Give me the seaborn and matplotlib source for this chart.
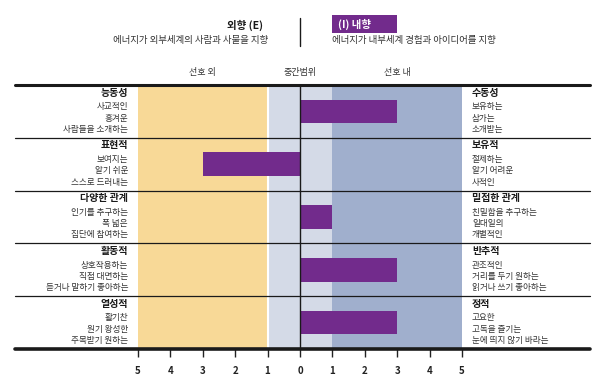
import matplotlib
matplotlib.use("Agg")
import matplotlib.pyplot as plt
import seaborn as sns
import pandas as pd
from matplotlib.patches import Rectangle
from matplotlib.lines import Line2D

sns.set_theme(style="white")
plt.rcParams['font.family'] = ['Noto Sans CJK KR', 'DejaVu Sans']

# ---- data ----
categories = ["능동성", "표현적", "다양한 관계", "활동적", "열성적"]
scores = [3, -3, 1, 3, 3]
left_titles = ["능동성", "표현적", "다양한 관계", "활동적", "열성적"]
left_desc = [
    ["사교적인", "흥겨운", "사람들을 소개하는"],
    ["보여지는", "알기 쉬운", "스스로 드러내는"],
    ["인기를 추구하는", "폭 넓은", "집단에 참여하는"],
    ["상호작용하는", "직접 대면하는", "듣거나 말하기 좋아하는"],
    ["활기찬", "원기 왕성한", "주목받기 원하는"],
]
right_titles = ["수동성", "보유적", "밀접한 관계", "반추적", "정적"]
right_desc = [
    ["보유하는", "삼가는", "소개받는"],
    ["절제하는", "알기 어려운", "사적인"],
    ["친밀함을 추구하는", "일대일의", "개별적인"],
    ["관조적인", "거리를 두기 원하는", "읽거나 쓰기 좋아하는"],
    ["고요한", "고독을 즐기는", "눈에 띄지 않기 바라는"],
]
tick_values = [-5, -4, -3, -2, -1, 0, 1, 2, 3, 4, 5]
tick_labels = ["5", "4", "3", "2", "1", "0", "1", "2", "3", "4", "5"]
zone_labels = ["선호 외", "중간범위", "선호 내"]
zone_pos = [-3, 0, 3]

YELLOW = "#F8D997"
LIGHT = "#D4DAE7"
DARK = "#A0AFCD"
PURPLE = "#722B8C"

W, H = 604, 388
fig = plt.figure(figsize=(W / 100, H / 100), dpi=100)
ax = fig.add_axes([138 / W, 1 - 349 / H, 324 / W, 264 / H])

df = pd.DataFrame({"cat": categories, "score": scores})

# background zones
ax.axvspan(-5, -1, color=YELLOW, lw=0, zorder=0)
ax.axvspan(-1, 1, color=LIGHT, lw=0, zorder=0)
ax.axvspan(1, 5, color=DARK, lw=0, zorder=0)
ax.axvline(-1, color="white", lw=1.5, zorder=1)

sns.barplot(data=df, y="cat", x="score", orient="h", color=PURPLE,
            saturation=1, width=0.45, ax=ax, zorder=3, order=categories,
            linewidth=0, edgecolor="none")
ax.axvline(0, color="#1a1a1a", lw=1.0, zorder=4)

ax.set_xlim(-5, 5)
ax.set_ylim(4.5, -0.5)
ax.set_xlabel("")
ax.set_ylabel("")
ax.set_yticks([])
for s in ax.spines.values():
    s.set_visible(False)
ax.set_xticks(tick_values)
ax.set_xticklabels(tick_labels, fontsize=7, fontweight="bold", color="#222222")
ax.tick_params(axis="x", length=6, width=1, color="#222222", pad=6, bottom=True)

tr = ax.get_yaxis_transform()
x0 = (15 - 138) / 324
x1 = (590 - 138) / 324
# top and bottom thick lines, separators
ax.plot([x0, x1], [-0.5, -0.5], transform=tr, color="#1a1a1a", lw=2.2, clip_on=False, zorder=5)
ax.plot([x0, x1], [4.5, 4.5], transform=tr, color="#1a1a1a", lw=2.6, clip_on=False, zorder=5)
for yy in [0.5, 1.5, 2.5, 3.5]:
    ax.plot([x0, x1], [yy, yy], transform=tr, color="#1a1a1a", lw=0.9, clip_on=False, zorder=5)

lx = (128 - 138) / 324
rx = (472 - 138) / 324
offs = [8 / 56, 23 / 56, 35 / 56, 47 / 56]
for i in range(len(categories)):
    top = i - 0.5
    ax.text(lx, top + offs[0], left_titles[i], transform=tr, ha="right", va="center",
            fontsize=7.2, fontweight="bold", color="#1a1a1a")
    ax.text(rx, top + offs[0], right_titles[i], transform=tr, ha="left", va="center",
            fontsize=7.2, fontweight="bold", color="#1a1a1a")
    for k in range(3):
        ax.text(lx, top + offs[k + 1], left_desc[i][k], transform=tr, ha="right", va="center",
                fontsize=6.2, color="#333333")
        ax.text(rx, top + offs[k + 1], right_desc[i][k], transform=tr, ha="left", va="center",
                fontsize=6.2, color="#333333")

# zone labels above
for lab, p in zip(zone_labels, zone_pos):
    ax.text(p, 1 + 12 / 264, lab, transform=ax.get_xaxis_transform(), ha="center",
            va="center", fontsize=6.5, color="#333333")

# header
fig.text(263 / W, 1 - 25 / H, "외향 (E)", ha="right", va="center", fontsize=7.5,
         fontweight="bold", color="#1a1a1a")
fig.text(268 / W, 1 - 40 / H, "에너지가 외부세계의 사람과 사물을 지향", ha="right",
         va="center", fontsize=6.8, color="#333333")
fig.add_artist(Line2D([300 / W, 300 / W], [1 - 18 / H, 1 - 46 / H], color="#1a1a1a", lw=1))
fig.add_artist(Rectangle((332 / W, 1 - 33 / H), 65 / W, 18 / H, color=PURPLE, lw=0,
                         transform=fig.transFigure))
fig.text(338 / W, 1 - 24 / H, "(I) 내향", ha="left", va="center", fontsize=7.5,
         fontweight="bold", color="white")
fig.text(332 / W, 1 - 40 / H, "에너지가 내부세계 경험과 아이디어를 지향", ha="left",
         va="center", fontsize=6.8, color="#333333")

fig.savefig("out.png", dpi=100)
